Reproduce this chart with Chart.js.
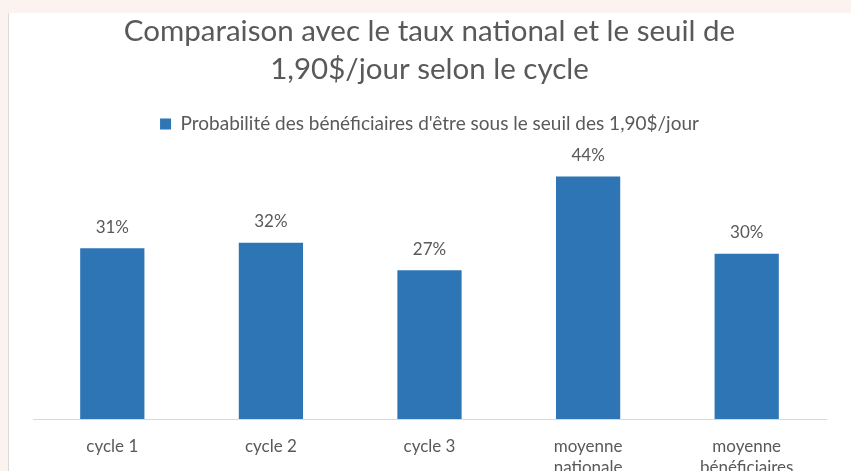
<!DOCTYPE html>
<html>
<head>
<meta charset="utf-8">
<script src="https://cdn.jsdelivr.net/npm/chart.js@4/dist/chart.umd.min.js"></script>
<style>
  html, body { margin: 0; padding: 0; overflow: hidden; background: #fcf2ef; width: 851px; height: 471px; }
  #panel { position: absolute; left: 8px; top: 13px; width: 843px; height: 490px; background: #fff; border-left: 1px solid #d9d9d9; }
  #panel canvas { position: absolute; left: 0; top: 0; }
</style>
</head>
<body>
<div id="panel"><canvas id="barchart" width="842" height="482"></canvas></div>
<script>
const categories = [['cycle 1'], ['cycle 2'], ['cycle 3'], ['moyenne', 'nationale'], ['moyenne', 'bénéficiaires']];
const values = [31, 32, 27, 44, 30];
const seriesName = "Probabilité des bénéficiaires d'être sous le seuil des 1,90$/jour";
const titleLines = ['Comparaison avec le taux national et le seuil de', '1,90$/jour selon le cycle'];

const barLabels = {
    id: 'barLabels',
    afterDatasetsDraw(chart) {
        const ctx = chart.ctx;
        const meta = chart.getDatasetMeta(0);
        ctx.save();
        ctx.font = '17px Lato';
        ctx.fillStyle = '#595959';
        ctx.textAlign = 'center';
        ctx.textBaseline = 'middle';
        meta.data.forEach((bar, i) => {
            ctx.fillText(values[i] + '%', bar.x, bar.y - 21);
        });
        ctx.restore();
    }
};

new Chart(document.getElementById('barchart'), {
    type: 'bar',
    data: {
        labels: categories,
        datasets: [{
            label: seriesName,
            data: values,
            backgroundColor: '#2e75b6',
            borderWidth: 0,
            categoryPercentage: 1,
            barPercentage: 0.405
        }]
    },
    options: {
        responsive: false,
        animation: false,
        layout: { padding: { left: 24, right: 25, top: 0, bottom: 0 } },
        plugins: {
            title: {
                display: true,
                text: titleLines,
                color: '#595959',
                font: { family: 'Lato', size: 29.5, weight: 'normal', lineHeight: 1.28 },
                padding: { top: 0, bottom: 16 }
            },
            legend: {
                display: true,
                labels: {
                    color: '#595959',
                    font: { family: 'Lato', size: 19 },
                    boxWidth: 11,
                    boxHeight: 11,
                    padding: 10
                }
            },
            tooltip: { enabled: false }
        },
        scales: {
            x: {
                grid: { display: false, drawTicks: false },
                border: { color: '#d9d9d9', width: 1 },
                ticks: {
                    color: '#595959',
                    font: { family: 'Lato', size: 17, lineHeight: 1.235 },
                    padding: 17,
                    maxRotation: 0
                }
            },
            y: {
                display: false,
                min: 0,
                max: 50
            }
        }
    },
    plugins: [barLabels]
});
</script>
</body>
</html>
